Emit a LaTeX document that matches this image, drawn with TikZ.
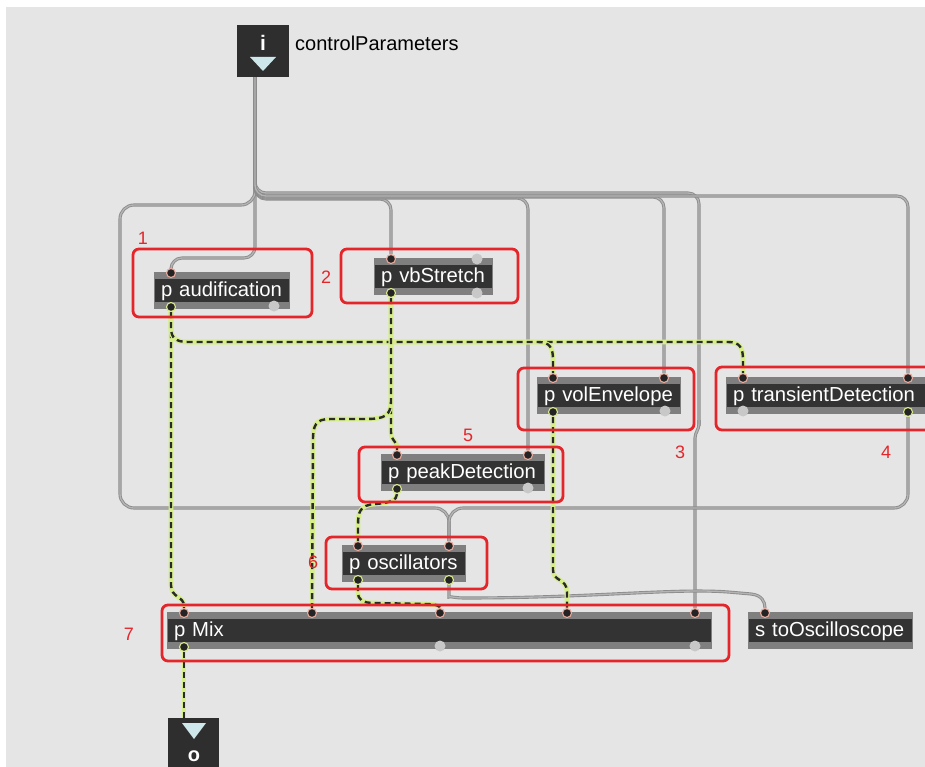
\documentclass[tikz,border=0pt]{standalone}
\usepackage{fontspec}
\setmainfont{Liberation Sans}
\usetikzlibrary{calc}
\definecolor{bggray}{HTML}{E5E5E5}
\definecolor{objgray}{HTML}{7F7F7F}
\definecolor{objdark}{HTML}{333333}
\definecolor{iodark}{HTML}{2E2E2E}
\definecolor{portdark}{HTML}{242424}
\definecolor{pinkring}{HTML}{EBA89B}
\definecolor{yellring}{HTML}{D9E889}
\definecolor{portgray}{HTML}{C8C8C8}
\definecolor{cabout}{HTML}{8C8C8C}
\definecolor{cabin}{HTML}{B4B4B4}
\definecolor{sigyellow}{HTML}{D6EE8A}
\definecolor{sigdark}{HTML}{2A2A2A}
\definecolor{annred}{HTML}{E4262B}
\definecolor{tribblue}{HTML}{CDE7EA}
\pgfdeclarelayer{back}
\pgfdeclarelayer{cables}
\pgfsetlayers{back,cables,main}
\begin{document}
\begin{tikzpicture}[x=1pt,y=-1pt,
  maxobj/.style={anchor=north west, fill=objgray, minimum height=37pt,
    inner xsep=7pt, inner ysep=0pt, text=white, align=left,
    font=\fontsize{20.3}{20}\selectfont, text height=15pt, text depth=3pt,
    path picture={\fill[objdark] ($(path picture bounding box.south west)+(1pt,7pt)$)
      rectangle ($(path picture bounding box.north east)+(-1pt,-7pt)$);}},
  inp/.style={circle, fill=portdark, draw=pinkring, line width=1.1pt, minimum size=9pt, inner sep=0pt},
  outp/.style={circle, fill=portdark, draw=yellring, line width=1.1pt, minimum size=9pt, inner sep=0pt},
  nop/.style={circle, fill=portgray, minimum size=11pt, inner sep=0pt},
  gcable/.style={draw=cabout, line width=0.9pt, double=cabin, double distance=1.3pt, rounded corners=11pt},
  sig/.style={draw=sigdark, line width=2.4pt, dash pattern=on 6pt off 4pt,
    preaction={draw=sigyellow, line width=4.6pt, solid}},
  annbox/.style={draw=annred, line width=2.8pt, rounded corners=6pt},
  annlab/.style={text=annred, font=\fontsize{18}{18}\selectfont, inner sep=0pt},
  iobox/.style={fill=iodark, inner sep=0pt, anchor=north west}
]
\useasboundingbox (0,0) rectangle (925,767);
\clip (0,0) rectangle (925,767);
\begin{pgfonlayer}{back}
  \fill[white] (0,0) rectangle (925,767);
  \fill[bggray] (6,7) rectangle (925,767);
\end{pgfonlayer}

% inlet object
\node[iobox, minimum width=52pt, minimum height=52pt] (inl) at (237,25) {};
\node[text=white, font=\bfseries\fontsize{21}{21}\selectfont, inner sep=0pt] (inlI) at (263,43) {i};
\fill[tribblue] (250,57) -- (276,57) -- (263,71) -- cycle;
\coordinate (inl-o) at (255,77);
\node[anchor=west, font=\fontsize{20}{20}\selectfont, inner sep=0pt] (cplab) at (295,43) {controlParameters};

% outlet object
\node[iobox, minimum width=51pt, minimum height=60pt] (outl) at (168,718) {};
\fill[tribblue] (182,723) -- (206,723) -- (194,739) -- cycle;
\node[text=white, font=\bfseries\fontsize{20}{20}\selectfont, inner sep=0pt] (outlO) at (194,756) {o};
\coordinate (outl-i) at (184,718);

% subpatchers
\node[maxobj, text width=122pt] (aud) at (154,272) {p audification};
\node[maxobj, text width=105pt] (vbs) at (374,258) {p vbStretch};
\node[maxobj, text width=130pt] (vol) at (537,377) {p volEnvelope};
\node[maxobj, text width=190pt] (trans) at (726,377) {p transientDetection};
\node[maxobj, text width=150pt] (peak) at (381,454) {p peakDetection};
\node[maxobj, text width=110pt] (osc) at (342,545) {p oscillators};
\node[maxobj, text width=531pt] (mix) at (167,612) {p Mix};
\node[maxobj, text width=151pt] (tosc) at (748,612) {s toOscilloscope};

% ports
\node[inp] (aud-i1) at (171,273) {};
\node[outp] (aud-o1) at (171,307) {};
\node[nop] (aud-o2) at (274,306) {};
\node[inp] (vbs-i1) at (391,259) {};
\node[nop] (vbs-i2) at (477,259) {};
\node[outp] (vbs-o1) at (391,293) {};
\node[nop] (vbs-o2) at (477,293) {};
\node[inp] (vol-i1) at (553,378) {};
\node[inp] (vol-i2) at (664,378) {};
\node[outp] (vol-o1) at (553,412) {};
\node[nop] (vol-o2) at (665,411) {};
\node[inp] (trans-i1) at (743,378) {};
\node[inp] (trans-i2) at (908,378) {};
\node[nop] (trans-o1) at (743,411) {};
\node[outp] (trans-o2) at (908,412) {};
\node[inp] (peak-i1) at (397,455) {};
\node[inp] (peak-i2) at (528,455) {};
\node[outp] (peak-o1) at (397,489) {};
\node[nop] (peak-o2) at (528,488) {};
\node[inp] (osc-i1) at (358,546) {};
\node[inp] (osc-i2) at (449,546) {};
\node[outp] (osc-o1) at (358,580) {};
\node[outp] (osc-o2) at (449,580) {};
\node[inp] (mix-i1) at (184,613) {};
\node[inp] (mix-i2) at (312,613) {};
\node[inp] (mix-i3) at (440,613) {};
\node[inp] (mix-i4) at (567,613) {};
\node[inp] (mix-i5) at (695,613) {};
\node[outp] (mix-o1) at (184,647) {};
\node[nop] (mix-o2) at (440,646) {};
\node[nop] (mix-o3) at (695,646) {};
\node[inp] (tosc-i1) at (765,613) {};

% cables
\begin{pgfonlayer}{cables}
  % control cables
  \draw[gcable] (inl-o) -- (255,258) -- (171,258) -- (aud-i1);
  \draw[gcable, rounded corners=14pt] (inl-o) -- (255,205) -- (120,205) -- (120,508) -- (449,508) -- (osc-i2);
  \draw[gcable] (inl-o) -- (255,199) -- (391,199) -- (vbs-i1);
  \draw[gcable] (inl-o) -- (255,198) -- (528,198) -- (peak-i2);
  \draw[gcable] (inl-o) -- (255,197) -- (664,197) -- (vol-i2);
  \draw[gcable] (inl-o) -- (255,193) -- (699,193) -- (699,426);
  \draw[gcable, rounded corners=4pt] (699,420) -- (699,428) -- (695,434) -- (mix-i5);
  \draw[gcable] (inl-o) -- (255,196) -- (908,196) -- (trans-i2);
  \draw[gcable, rounded corners=14pt] (trans-o2) -- (908,508) -- (449,508) -- (osc-i2);
  \draw[gcable] (osc-o2) -- (449,586) .. controls (449,596) and (455,598) .. (475,598)
     .. controls (600,597) and (680,588) .. (740,593) .. controls (762,595) and (765,602) .. (tosc-i1);
  % signal cables
  \draw[sig] (aud-o1) -- (171,585) .. controls (171,598) and (184,596) .. (184,606) -- (mix-i1);
  \draw[sig] (aud-o1) -- (171,328) .. controls (171,338) and (176,342) .. (188,342) -- (728,342)
     .. controls (740,342) and (743,348) .. (743,360) -- (trans-i1);
  \draw[sig] (aud-o1) -- (171,328) .. controls (171,338) and (176,342) .. (188,342) -- (538,342)
     .. controls (550,342) and (553,348) .. (553,360) -- (vol-i1);
  \draw[sig] (vbs-o1) -- (391,432) .. controls (391,442) and (397,440) .. (397,448) -- (peak-i1);
  \draw[sig] (vbs-o1) -- (391,400) .. controls (391,416) and (385,419) .. (365,419) -- (330,419)
     .. controls (316,419) and (313,425) .. (313,440) -- (mix-i2);
  \draw[sig] (peak-o1) .. controls (397,500) and (390,503) .. (375,504)
     .. controls (360,505) and (358,512) .. (358,525) -- (osc-i1);
  \draw[sig] (osc-o1) -- (358,592) .. controls (358,600) and (362,603) .. (375,603) -- (425,604)
     .. controls (436,604) and (440,606) .. (mix-i3);
  \draw[sig] (vol-o1) -- (553,570) .. controls (553,582) and (567,578) .. (567,592) -- (mix-i4);
  \draw[sig] (mix-o1) -- (outl-i);
\end{pgfonlayer}

% annotation boxes
\draw[annbox] (133,249) rectangle (312,317);
\draw[annbox] (341,249) rectangle (518,303);
\draw[annbox] (518,368) rectangle (694,430);
\draw[annbox] (716,367) rectangle (940,430);
\draw[annbox] (359,447) rectangle (563,502);
\draw[annbox] (326,537) rectangle (487,589);
\draw[annbox] (162,605) rectangle (729,661);
\node[annlab] (n1) at (143,238) {1};
\node[annlab] (n2) at (326,277) {2};
\node[annlab] (n3) at (680,452) {3};
\node[annlab] (n4) at (886,452) {4};
\node[annlab] (n5) at (468,435) {5};
\node[annlab] (n6) at (313,562) {6};
\node[annlab] (n7) at (129,634) {7};
\end{tikzpicture}
\end{document}
